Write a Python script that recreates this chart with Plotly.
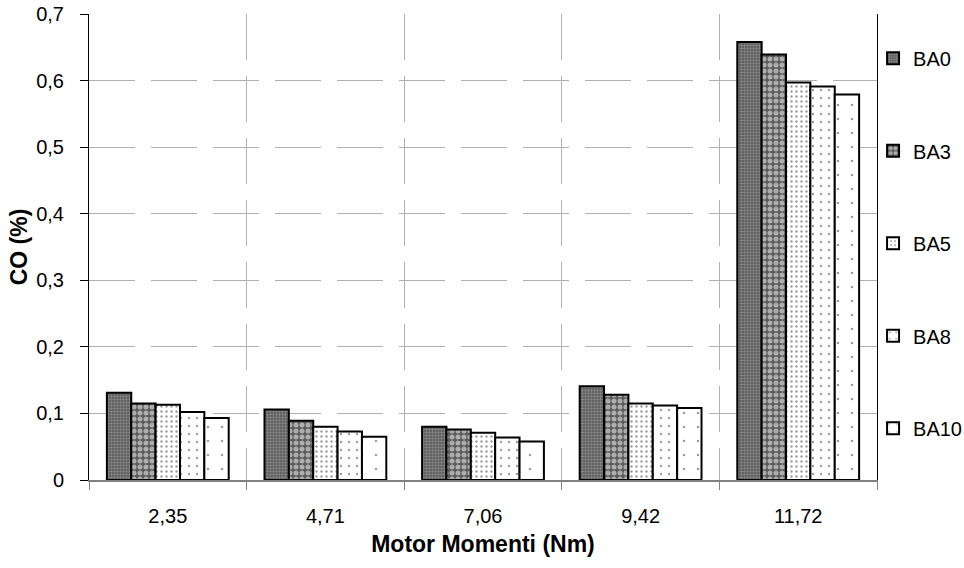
import plotly.graph_objects as go

# Engine torque categories (Nm) and CO emissions (%) for each fuel blend
torque = ["2,35", "4,71", "7,06", "9,42", "11,72"]
ba0 = [0.131, 0.106, 0.080, 0.141, 0.658]
ba3 = [0.115, 0.089, 0.076, 0.128, 0.639]
ba5 = [0.113, 0.080, 0.071, 0.115, 0.597]
ba8 = [0.102, 0.073, 0.064, 0.112, 0.591]
ba10 = [0.093, 0.065, 0.058, 0.108, 0.579]

y_ticks = [0, 0.1, 0.2, 0.3, 0.4, 0.5, 0.6, 0.7]
y_tick_labels = ["0", "0,1", "0,2", "0,3", "0,4", "0,5", "0,6", "0,7"]

series = [
    ("BA0", ba0, dict(shape=".", bgcolor="#555555", fgcolor="#bcbcbc", size=3, solidity=0.5)),
    ("BA3", ba3, dict(shape=".", bgcolor="#5a5a5a", fgcolor="#ffffff", size=6, solidity=0.55)),
    ("BA5", ba5, dict(shape=".", bgcolor="#ffffff", fgcolor="#3a3a3a", size=5, solidity=0.18)),
    ("BA8", ba8, dict(shape=".", bgcolor="#ffffff", fgcolor="#3a3a3a", size=8, solidity=0.07)),
    ("BA10", ba10, dict(shape=".", bgcolor="#ffffff", fgcolor="#3a3a3a", size=14, solidity=0.025)),
]

FONT = "Liberation Sans, Arial, sans-serif"

fig = go.Figure()
for name, vals, pat in series:
    fig.add_trace(go.Bar(
        x=torque, y=vals, name=name, legendgroup=name,
        marker=dict(color="white", pattern=pat, line=dict(color="black", width=2)),
    ))

grid = dict(showgrid=True, gridcolor="#b0b0b0", gridwidth=1, griddash="46px,16px")

fig.update_layout(
    width=964, height=568,
    margin=dict(l=89, r=87, t=14, b=88, autoexpand=False),
    paper_bgcolor="white", plot_bgcolor="white",
    font=dict(family=FONT, size=20, color="black"),
    barmode="group", bargap=0.227, bargroupgap=0,
    separators=",.",
    showlegend=True,
    legend=dict(x=0.995, xanchor="left", y=0.947, yanchor="top",
                tracegroupgap=63.5, font=dict(size=20), bgcolor="rgba(0,0,0,0)",
                itemwidth=30),
    xaxis=dict(
        type="category", tickson="boundaries", ticks="outside", ticklen=8,
        tickcolor="#808080", showline=True, linecolor="#808080", linewidth=2,
        ticklabelstandoff=17, tickfont=dict(size=20),
        title=dict(text="<b>Motor Momenti (Nm)</b>", font=dict(size=23), standoff=10),
        **grid,
    ),
    xaxis2=dict(
        overlaying="x", side="top", range=[-0.5, 4.5], tickvals=[0, 1, 2, 3, 4],
        showticklabels=False, ticks="", showline=True, linecolor="black", linewidth=1,
        zeroline=False, **grid,
    ),
    yaxis=dict(
        range=[0, 0.7], tickvals=y_ticks, ticktext=y_tick_labels,
        ticks="outside", ticklen=8, tickcolor="black",
        showline=True, linecolor="black", linewidth=1, mirror=True,
        zeroline=False, ticklabelstandoff=12, tickfont=dict(size=20),
        title=dict(text="<b>CO (%)</b>", font=dict(size=23), standoff=2),
        **grid,
    ),
)

fig.write_html("out.html")
